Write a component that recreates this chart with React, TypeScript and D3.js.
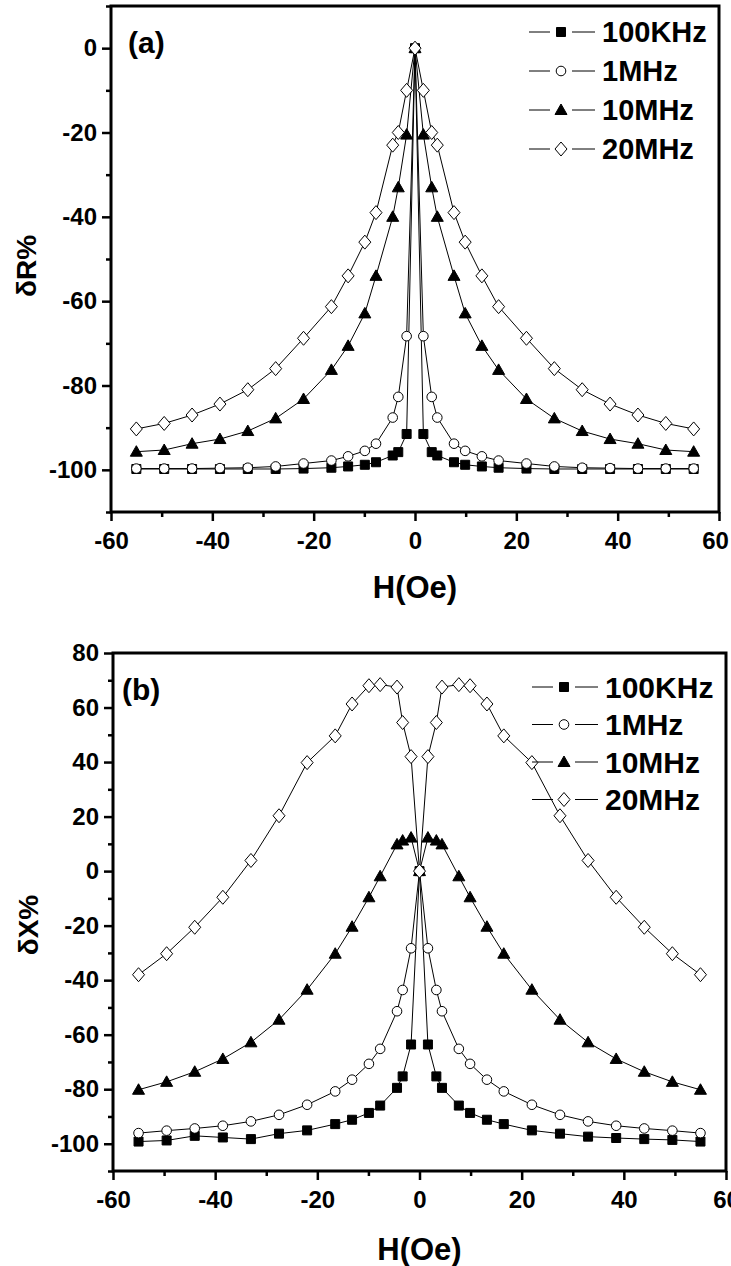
import { useEffect, useRef } from 'react';
import * as d3 from 'd3';

// field values (Oe), same grid for every curve
const hField = [
  -55, -49.5, -44, -38.5, -33, -27.5, -22, -16.5, -13.2, -9.9, -7.7, -4.4, -3.3, -1.65, 0,
  1.65, 3.3, 4.4, 7.7, 9.9, 13.2, 16.5, 22, 27.5, 33, 38.5, 44, 49.5, 55,
];

const freqLabels = ['100KHz', '1MHz', '10MHz', '20MHz'];
const markerKinds = ['square', 'circle', 'triangle', 'diamond'];
const markerFills = ['#000', '#fff', '#000', '#fff'];

// panel (a): dR%
const dR100KHz = [
  -99.8, -99.8, -99.8, -99.8, -99.8, -99.8, -99.7, -99.5, -99.2, -98.8, -98.2, -96.6, -95.8, -91.5, 0,
  -91.5, -95.8, -96.6, -98.2, -98.8, -99.2, -99.5, -99.7, -99.8, -99.8, -99.8, -99.8, -99.8, -99.8,
];
const dR1MHz = [
  -99.7, -99.7, -99.7, -99.6, -99.5, -99.2, -98.5, -97.8, -96.8, -95.5, -93.8, -87.6, -82.7, -68.3, 0,
  -68.3, -82.7, -87.6, -93.8, -95.5, -96.8, -97.8, -98.5, -99.2, -99.5, -99.6, -99.7, -99.7, -99.7,
];
const dR10MHz = [
  -95.7, -95.3, -93.8, -92.7, -90.8, -87.8, -83.2, -76.3, -70.6, -62.9, -54, -40, -33, -20.5, 0,
  -20.5, -33, -40, -54, -62.9, -70.6, -76.3, -83.2, -87.8, -90.8, -92.7, -93.8, -95.3, -95.7,
];
const dR20MHz = [
  -90.3, -89, -87, -84.4, -81, -76, -68.8, -61.3, -54, -46, -39, -23, -20, -10, 0,
  -10, -20, -23, -39, -46, -54, -61.3, -68.8, -76, -81, -84.4, -87, -89, -90.3,
];

// panel (b): dX%
const dX100KHz = [
  -99.2, -98.8, -97.1, -97.7, -98.3, -96.3, -95.1, -92.8, -91.2, -88.7, -86, -79.5, -75.3, -63.6, 0,
  -63.6, -75.3, -79.5, -86, -88.7, -91.2, -92.8, -95.1, -96.3, -97.4, -97.9, -98.3, -98.6, -99.2,
];
const dX1MHz = [
  -96.1, -95.2, -94.4, -93.4, -91.8, -89.4, -85.7, -80.8, -76.5, -70.7, -65.2, -51.4, -43.6, -28.3, 0,
  -28.3, -43.6, -51.4, -65.2, -70.7, -76.5, -80.8, -85.7, -89.4, -91.8, -93.4, -94.4, -95.2, -96.1,
];
const dX10MHz = [
  -80.2, -77.3, -73.6, -68.9, -62.8, -54.5, -43.5, -30.3, -20.4, -9.6, -1.9, 9.8, 11.2, 12.3, 0,
  12.3, 11.2, 9.8, -1.9, -9.6, -20.4, -30.3, -43.5, -54.5, -62.8, -68.9, -73.6, -77.3, -80.2,
];
const dX20MHz = [
  -38, -30.3, -20.6, -9.6, 3.9, 20.3, 39.8, 49.6, 61.3, 68, 68.4, 67.5, 54.5, 42, 0,
  42, 54.5, 67.5, 68.4, 68, 61.3, 49.6, 39.8, 20.3, 3.9, -9.6, -20.6, -30.3, -38,
];

const xTicks = [-60, -40, -20, 0, 20, 40, 60];
const xMinor = [-50, -30, -10, 10, 30, 50];
const dRTicks = [0, -20, -40, -60, -80, -100];
const dRMinor = [10, -10, -30, -50, -70, -90, -110];
const dXTicks = [80, 60, 40, 20, 0, -20, -40, -60, -80, -100];
const dXMinor = [70, 50, 30, 10, -10, -30, -50, -70, -90, -110];

const FONT = "'Liberation Sans', Arial, sans-serif";

function markerPath(kind) {
  const p = d3.path();
  if (kind === 'square') {
    p.rect(-4.5, -4.5, 9, 9);
  } else if (kind === 'circle') {
    p.moveTo(4.8, 0);
    p.arc(0, 0, 4.8, 0, 2 * Math.PI);
  } else if (kind === 'triangle') {
    p.moveTo(0, -6);
    p.lineTo(6, 4.5);
    p.lineTo(-6, 4.5);
    p.closePath();
  } else {
    p.moveTo(0, -7);
    p.lineTo(6, 0);
    p.lineTo(0, 7);
    p.lineTo(-6, 0);
    p.closePath();
  }
  return p.toString();
}

function drawPanel(svg, cfg) {
  const x = d3.scaleLinear().domain([-60, 60]).range([cfg.left, cfg.right]);
  const y = d3.scaleLinear().domain(cfg.yDomain).range([cfg.bottom, cfg.top]);
  const g = svg.append('g');

  // minor ticks
  g.append('g')
    .attr('transform', `translate(0,${cfg.bottom})`)
    .call(d3.axisBottom(x).tickValues(xMinor).tickSize(5).tickFormat(() => ''))
    .call(a => a.select('.domain').remove())
    .selectAll('line').attr('stroke-width', 2.5);
  g.append('g')
    .attr('transform', `translate(${cfg.left},0)`)
    .call(d3.axisLeft(y).tickValues(cfg.yMinor).tickSize(5).tickFormat(() => ''))
    .call(a => a.select('.domain').remove())
    .selectAll('line').attr('stroke-width', 2.5);

  // major ticks + labels (plain hyphen minus like the original)
  const fmt = d => String(d);
  const xa = g.append('g')
    .attr('transform', `translate(0,${cfg.bottom})`)
    .call(d3.axisBottom(x).tickValues(xTicks).tickSize(9).tickPadding(11).tickFormat(fmt));
  xa.select('.domain').remove();
  xa.selectAll('line').attr('stroke-width', 2.5);
  xa.selectAll('text')
    .attr('font-family', FONT).attr('font-weight', 'bold').attr('font-size', 24).attr('fill', '#000')
    .attr('dx', d => (d === 60 ? cfg.lastTickShift : 0));

  const ya = g.append('g')
    .attr('transform', `translate(${cfg.left},0)`)
    .call(d3.axisLeft(y).tickValues(cfg.yTicks).tickSize(9).tickPadding(5).tickFormat(fmt));
  ya.select('.domain').remove();
  ya.selectAll('line').attr('stroke-width', 2.5);
  ya.selectAll('text')
    .attr('font-family', FONT).attr('font-weight', 'bold').attr('font-size', 24).attr('fill', '#000');

  // frame
  g.append('rect')
    .attr('x', cfg.left).attr('y', cfg.top)
    .attr('width', cfg.right - cfg.left).attr('height', cfg.bottom - cfg.top)
    .attr('fill', 'none').attr('stroke', '#000').attr('stroke-width', 3);

  const line = d3.line().x((d, i) => x(hField[i])).y(d => y(d));

  cfg.series.forEach(vals => {
    g.append('path')
      .datum(vals)
      .attr('d', line)
      .attr('fill', 'none')
      .attr('stroke', '#000')
      .attr('stroke-width', 1);
  });
  cfg.series.forEach((vals, s) => {
    g.selectAll(null)
      .data(vals)
      .enter()
      .append('path')
      .attr('d', markerPath(markerKinds[s]))
      .attr('transform', (d, i) => `translate(${x(hField[i])},${y(d)})`)
      .attr('fill', markerFills[s])
      .attr('stroke', '#000')
      .attr('stroke-width', 1);
  });

  // legend
  freqLabels.forEach((lab, s) => {
    const ly = cfg.legendY + s * cfg.legendStep;
    const lx = cfg.legendX;
    g.append('line').attr('x1', lx).attr('x2', lx + 21).attr('y1', ly).attr('y2', ly)
      .attr('stroke', '#000').attr('stroke-width', 1);
    g.append('line').attr('x1', lx + 43).attr('x2', lx + 66).attr('y1', ly).attr('y2', ly)
      .attr('stroke', '#000').attr('stroke-width', 1);
    g.append('path')
      .attr('d', markerPath(markerKinds[s]))
      .attr('transform', `translate(${lx + 32},${ly})`)
      .attr('fill', markerFills[s]).attr('stroke', '#000').attr('stroke-width', 1);
    g.append('text')
      .attr('x', lx + 73).attr('y', ly).attr('dy', '0.36em')
      .attr('font-family', FONT).attr('font-weight', 'bold').attr('font-size', cfg.legendFont)
      .text(lab);
  });

  // panel tag
  g.append('text')
    .attr('x', cfg.tagX).attr('y', cfg.tagY)
    .attr('font-family', FONT).attr('font-weight', 'bold').attr('font-size', 30)
    .text(cfg.tag);

  // axis titles
  g.append('text')
    .attr('x', (cfg.left + cfg.right) / 2).attr('y', cfg.xTitleY)
    .attr('text-anchor', 'middle')
    .attr('font-family', FONT).attr('font-weight', 'bold').attr('font-size', 31)
    .text('H(Oe)');
  g.append('text')
    .attr('transform', `translate(${cfg.yTitleX},${cfg.yTitleY}) rotate(-90)`)
    .attr('text-anchor', 'middle')
    .attr('font-family', FONT).attr('font-weight', 'bold').attr('font-size', 28)
    .text(cfg.yTitle);
}

export default function App() {
  const svgRef = useRef(null);

  useEffect(() => {
    const svg = d3.select(svgRef.current);
    svg.selectAll('*').remove();

    drawPanel(svg, {
      left: 111, right: 719, top: 6, bottom: 512,
      yDomain: [-110, 10], yTicks: dRTicks, yMinor: dRMinor, lastTickShift: -4,
      series: [dR100KHz, dR1MHz, dR10MHz, dR20MHz],
      legendX: 529, legendY: 32, legendStep: 39, legendFont: 29,
      tag: '(a)', tagX: 128, tagY: 53,
      xTitleY: 598, yTitle: 'δR%', yTitleX: 36, yTitleY: 266,
    });

    drawPanel(svg, {
      left: 113, right: 726, top: 653, bottom: 1171,
      yDomain: [-110, 80], yTicks: dXTicks, yMinor: dXMinor, lastTickShift: 0,
      series: [dX100KHz, dX1MHz, dX10MHz, dX20MHz],
      legendX: 532, legendY: 687, legendStep: 37.5, legendFont: 30,
      tag: '(b)', tagX: 122, tagY: 700,
      xTitleY: 1260, yTitle: 'δX%', yTitleX: 38, yTitleY: 925,
    });
  }, []);

  return (
    <svg
      ref={svgRef}
      width={731}
      height={1266}
      style={{ position: 'absolute', left: 0, top: 0, background: '#fff' }}
    ></svg>
  );
}
